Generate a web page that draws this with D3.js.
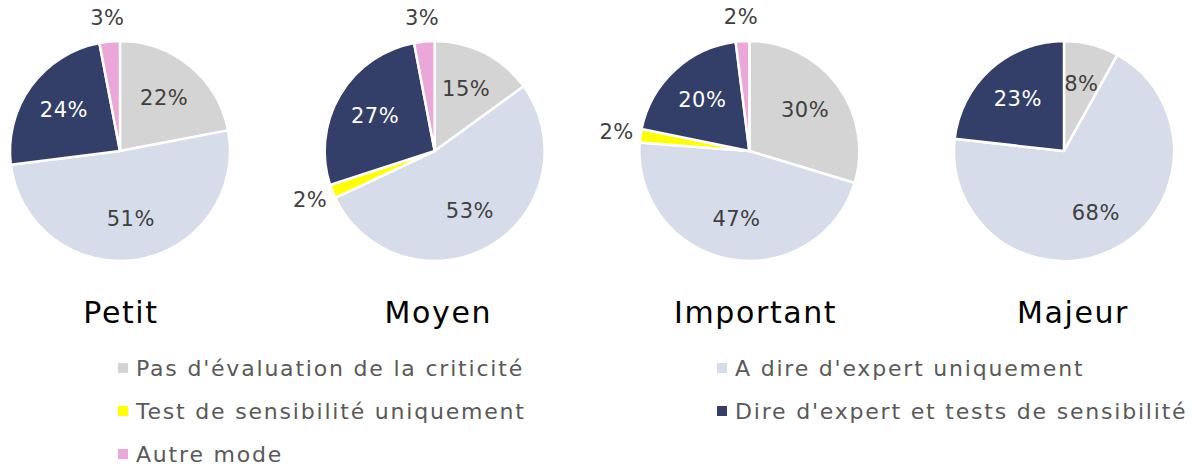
<!DOCTYPE html>
<html>
<head>
<meta charset="utf-8">
<script src="https://cdn.jsdelivr.net/npm/d3@7"></script>
<style>
  body { margin: 0; background: #fff; }
  svg { display: block; font-family: "DejaVu Sans", sans-serif; }
</style>
</head>
<body>
<svg id="chart"></svg>
<script>
/* ===============================
   Data
================================ */

const categories = [
  "Pas d'évaluation de la criticité",
  "A dire d'expert uniquement",
  "Test de sensibilité uniquement",
  "Dire d'expert et tests de sensibilité",
  "Autre mode"
];

const groups = ["Petit", "Moyen", "Important", "Majeur"];

const petit     = [22, 51, 0, 24, 3];
const moyen     = [15, 53, 2, 27, 3];
const important = [30, 47, 2, 20, 2];
const majeur    = [8, 68, 0, 23, 0];

const seriesValues = [petit, moyen, important, majeur];

/* ===============================
   Setup
================================ */

const width = 1196;
const height = 467;

const COLORS = ["#d4d4d4", "#d6dcea", "#ffff00", "#333f68", "#eba7d9"];
const LABEL_COLORS = ["#404040", "#404040", "#404040", "#ffffff", "#404040"];

const svg = d3.select("#chart")
  .attr("width", width)
  .attr("height", height);

const R = 110;
const cy = 151;

const xPie = d3.scalePoint()
  .domain(groups)
  .range([120, 1064]);

/* titles sit a bit right of the pie centres */
const xTitle = d3.scalePoint()
  .domain(groups)
  .range([121, 1073]);

const pie = d3.pie().sort(null).value(d => d.value);
const arc = d3.arc().innerRadius(0).outerRadius(R);
const inLabel = d3.arc().innerRadius(R * 0.63).outerRadius(R * 0.63);
const outLabel = d3.arc().innerRadius(R + 24).outerRadius(R + 24);

/* ===============================
   Pies
================================ */

groups.forEach((name, gi) => {
  const data = seriesValues[gi]
    .map((v, i) => ({ value: v, cat: i }))
    .filter(d => d.value > 0);

  const g = svg.append("g")
    .attr("transform", `translate(${xPie(name)},${cy})`);

  const arcs = pie(data);

  g.selectAll("path")
    .data(arcs)
    .join("path")
    .attr("d", arc)
    .attr("fill", d => COLORS[d.data.cat])
    .attr("stroke", "#fff")
    .attr("stroke-width", 2.5)
    .attr("stroke-linejoin", "round");

  g.selectAll("text.lbl")
    .data(arcs)
    .join("text")
    .attr("class", "lbl")
    .attr("transform", d => {
      const p = d.data.value < 5 ? outLabel.centroid(d) : inLabel.centroid(d);
      return `translate(${p})`;
    })
    .attr("text-anchor", "middle")
    .attr("dominant-baseline", "central")
    .attr("font-size", 21)
    .attr("letter-spacing", 0.5)
    .attr("fill", d => d.data.value < 5 ? "#404040" : LABEL_COLORS[d.data.cat])
    .text(d => d.data.value + "%");

  svg.append("text")
    .attr("x", xTitle(name))
    .attr("y", 323)
    .attr("text-anchor", "middle")
    .attr("font-size", 30)
    .attr("letter-spacing", 1.6)
    .attr("fill", "#000")
    .text(name);
});

/* ===============================
   Legend
================================ */

const legend = svg.append("g");

const legendItems = legend.selectAll("g")
  .data(categories)
  .join("g")
  .attr("transform", (d, i) =>
    `translate(${i % 2 === 0 ? 118 : 717},${368 + Math.floor(i / 2) * 43})`
  );

legendItems.append("rect")
  .attr("x", 0)
  .attr("y", -5)
  .attr("width", 10)
  .attr("height", 10)
  .attr("fill", (d, i) => COLORS[i]);

legendItems.append("text")
  .attr("x", 18)
  .attr("y", 0)
  .attr("dominant-baseline", "central")
  .attr("font-size", 22)
  .attr("letter-spacing", 1.8)
  .attr("fill", "#595959")
  .text(d => d);
</script>
</body>
</html>
